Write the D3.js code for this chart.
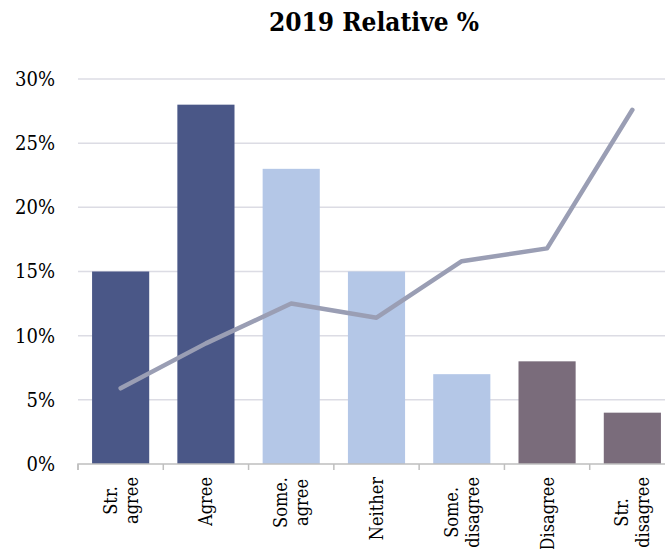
<!DOCTYPE html>
<html><head><meta charset="utf-8">
<script src="https://cdn.jsdelivr.net/npm/d3@7"></script>
<style>body{margin:0;background:#fff}svg{display:block}</style>
</head><body>
<script>
const categories = [["Str.","agree"],["Agree"],["Some.","agree"],["Neither"],["Some.","disagree"],["Disagree"],["Str.","disagree"]];
const barValues = [15, 28, 23, 15, 7, 8, 4];
const lineValues = [5.9, 9.4, 12.5, 11.4, 15.8, 16.8, 27.6];
const barGroups = ["agree","agree","mid","mid","mid","disagree","disagree"];
const yTicks = [0, 5, 10, 15, 20, 25, 30];
const title = "2019 Relative %";

const W = 665, H = 549;
const m = {left: 78, right: -10, top: 79, bottom: 85};
const svg = d3.select("body").append("svg").attr("width", W).attr("height", H);
const x = d3.scaleBand().domain(d3.range(categories.length)).range([m.left, W - m.right]).paddingInner(0.33).paddingOuter(0.165);
const xb = d3.scaleBand().domain(d3.range(categories.length)).range([m.left, W - m.right]);
const y = d3.scaleLinear().domain([0, 30]).range([H - m.bottom, m.top]);
const color = d3.scaleOrdinal().domain(["agree","mid","disagree"]).range(["#4A5787","#B4C7E7","#7A6C7B"]);
const serif = "'DejaVu Serif Condensed','DejaVu Serif', serif";

svg.append("text").attr("x", 374).attr("y", 31).attr("text-anchor","middle")
  .attr("font-family", serif).attr("font-stretch","condensed").attr("font-weight","bold").attr("font-size", 26)
  .attr("fill","#000").text(title);

// gridlines
svg.append("g").selectAll("line").data(yTicks.filter(d=>d>0)).join("line")
  .attr("x1", m.left).attr("x2", W).attr("y1", d=>y(d)).attr("y2", d=>y(d))
  .attr("stroke","#DCDCE4").attr("stroke-width",1.5);

// y labels
const yAxis = d3.axisLeft(y).tickValues(yTicks).tickFormat(d=>d+"%").tickSize(0).tickPadding(23);
const ga = svg.append("g").attr("transform",`translate(${m.left},0)`).call(yAxis);
ga.select(".domain").remove();
ga.selectAll("text").attr("font-family", serif).attr("font-stretch","condensed").attr("font-size",20).attr("fill","#000");

// bars
svg.append("g").selectAll("rect").data(barValues).join("rect")
  .attr("x",(d,i)=>x(i)).attr("width",x.bandwidth())
  .attr("y",d=>y(d)).attr("height",d=>y(0)-y(d))
  .attr("fill",(d,i)=>color(barGroups[i]));

// x axis
const xAxis = d3.axisBottom(xb).tickSize(6).tickFormat("");
const gx = svg.append("g").attr("transform",`translate(0,${y(0)})`).call(xAxis);
gx.select(".domain").attr("stroke","#BFBFBF").attr("stroke-width",1.5).attr("d",`M${m.left},6V0H${W+20}`);
gx.selectAll(".tick").attr("transform",(d)=>`translate(${xb(d)},0)`);
gx.selectAll(".tick line").attr("stroke","#BFBFBF").attr("stroke-width",1.5);

// line
const line = d3.line().x((d,i)=>xb(i)+xb.bandwidth()/2).y(d=>y(d));
svg.append("path").datum(lineValues).attr("d",line).attr("fill","none")
  .attr("stroke","#9A9EB4").attr("stroke-width",4.5).attr("stroke-linecap","round").attr("stroke-linejoin","round");

// x labels
const lh = 21;
categories.forEach((lines,i)=>{
  const g = svg.append("g").attr("transform",`translate(${xb(i)+xb.bandwidth()/2},${y(0)+13}) rotate(-90)`);
  const ts = lines.map((t,j)=>g.append("text").attr("font-family",serif).attr("font-stretch","condensed").attr("font-size",18).attr("fill","#000")
     .attr("text-anchor","middle").attr("dy", (j-(lines.length-1)/2)*lh + 6.5).text(t));
  const L = d3.max(ts,t=>t.node().getComputedTextLength());
  ts.forEach(t=>t.attr("x",-L/2));
});
</script>
</body></html>
